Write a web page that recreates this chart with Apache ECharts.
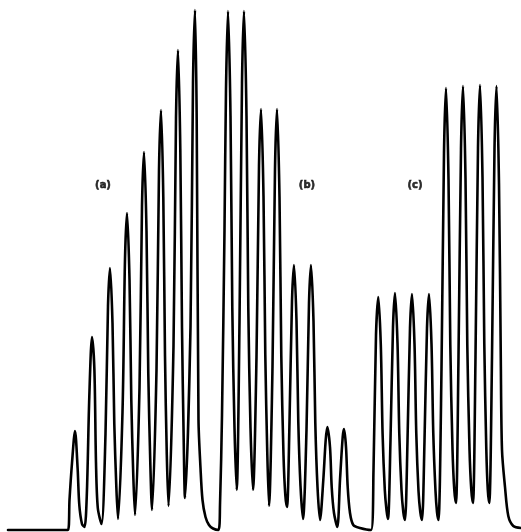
<!DOCTYPE html>
<html>
<head>
<meta charset="utf-8">
<script src="https://cdn.jsdelivr.net/npm/echarts@6/dist/echarts.min.js"></script>
<style>
html,body{margin:0;padding:0;background:#fff;}
#chart{width:521px;height:532px;}
</style>
</head>
<body>
<div id="chart"></div>
<script>
// Detector trace: [time, signal]
var baseline = [[8,0],[68,0]];
var groupA = [
  [69.5,30],[72,67],[75,99],[77.6,62],[79.3,25],[82,6],[84.5,3],
  [86.8,35],[89.3,133],[92,193],[94.4,160],[96,67],[97.8,22],[101.5,6],
  [105.5,96],[108,224],[110,262],[112.5,207],[114.3,106],[116.3,44],[118,11],
  [122.5,118],[125,271],[127,317],[129.5,251],[131.3,130],[133.3,54],[135,15],
  [139.5,142],[142,324],[144,378],[146.5,299],[148.3,156],[150.3,67],[152,20],
  [156.5,160],[159,360],[161,420],[163.3,333],[165,174],[166.8,75],[168.5,24],
  [173.5,184],[176,412],[178,480],[180.3,381],[182,202],[183.7,90],[185,32],
  [190.5,203],[193,447],[195,520],[196.7,410],[198.5,110],[200.5,62],[202.5,30],[205.5,13],[209,5],[213,1.5],[218.5,0]
];
var groupB = [
  [220,25],[222,115],[224.5,300],[226,441],[228,519],[230.5,414],[232.3,222],[234.5,102],[236.7,40],
  [239.5,208],[242,447],[244,519],[246.5,414],[248.3,222],[250.5,102],[253,40],
  [256.5,173],[259,364],[261,421],[263.5,334],[265.3,175],[267.3,76],[269,24],
  [272.5,163],[275,361],[277,421],[279.5,333],[281.3,174],[283.5,75],[285.3,35],[287,23],
  [289.5,108],[292,229],[294,265],[296.5,209],[298.3,108],[300.5,44],[303,11],
  [306.5,100],[309,227],[311,265],[313.5,209],[315.3,107],[317.5,43],[320,10],
  [323.3,50],[325.7,90],[327.3,103],[330,83],[331.7,43],[334,17],[337.3,3],
  [340,50],[342.7,93],[344,101],[346,83],[347.7,43],[350,17],[353.3,5],[360,2],[371,0]
];
var groupC = [
  [373.5,60],[376,195],[378.3,233],[380.8,185],[382.6,96],[384.8,40],[386.5,20],[388,11],
  [390.5,90],[393,203],[395,237],[397.5,187],[399.3,96],[401.5,40],[403.3,18],[405,10],
  [407.5,89],[410,202],[412,236],[414.5,186],[416.3,96],[418.5,39],[420.3,18],[422,10],
  [424.5,89],[427,202],[429,236],[431.5,186],[433.3,96],[435.5,39],[437,18],[438.5,10],
  [441.5,161],[444,377],[446,442],[448.5,351],[450.3,185],[452.5,81],[454.3,40],[456,27],
  [458.5,173],[461,381],[463,444],[465.5,352],[467.3,185],[469.5,81],[471.3,40],[473,27],
  [475.5,173],[478,382],[480,445],[482.5,353],[484.3,186],[486.3,81],[487.8,40],[489.3,27],
  [492,173],[494.5,381],[496.5,444],[499,346],[500.8,170],[502,80],[505,43],[508.3,14],[513.3,4],[521,2]
];
var labelText = ['(a)','(b)','(c)'];
var labelX = [103, 307, 415];
var labelY = [345, 345, 345];

var trace = baseline.concat(groupA, groupB, groupC);
var labelData = labelText.map(function(t,i){ return {value:[labelX[i], labelY[i]], name:t}; });

var chart = echarts.init(document.getElementById('chart'), null, {renderer:'canvas'});
chart.setOption({
  animation:false,
  backgroundColor:'#ffffff',
  grid:{left:0,right:0,top:10,bottom:2,containLabel:false},
  xAxis:{type:'value',min:0,max:521,show:false},
  yAxis:{type:'value',min:0,max:520,show:false},
  series:[
    {
      type:'line',
      data:trace,
      showSymbol:false,
      smooth:0.3,
      lineStyle:{color:'#000000',width:2.6,join:'round',cap:'round'},
      clip:false
    },
    {
      type:'scatter',
      data:labelData,
      symbolSize:0,
      label:{show:true,position:'inside',formatter:function(p){return p.name;},
        fontFamily:'DejaVu Sans',fontWeight:'bold',fontSize:10,color:'#000',
        textBorderColor:'#000',textBorderWidth:0.6}
    }
  ]
});
</script>
</body>
</html>
